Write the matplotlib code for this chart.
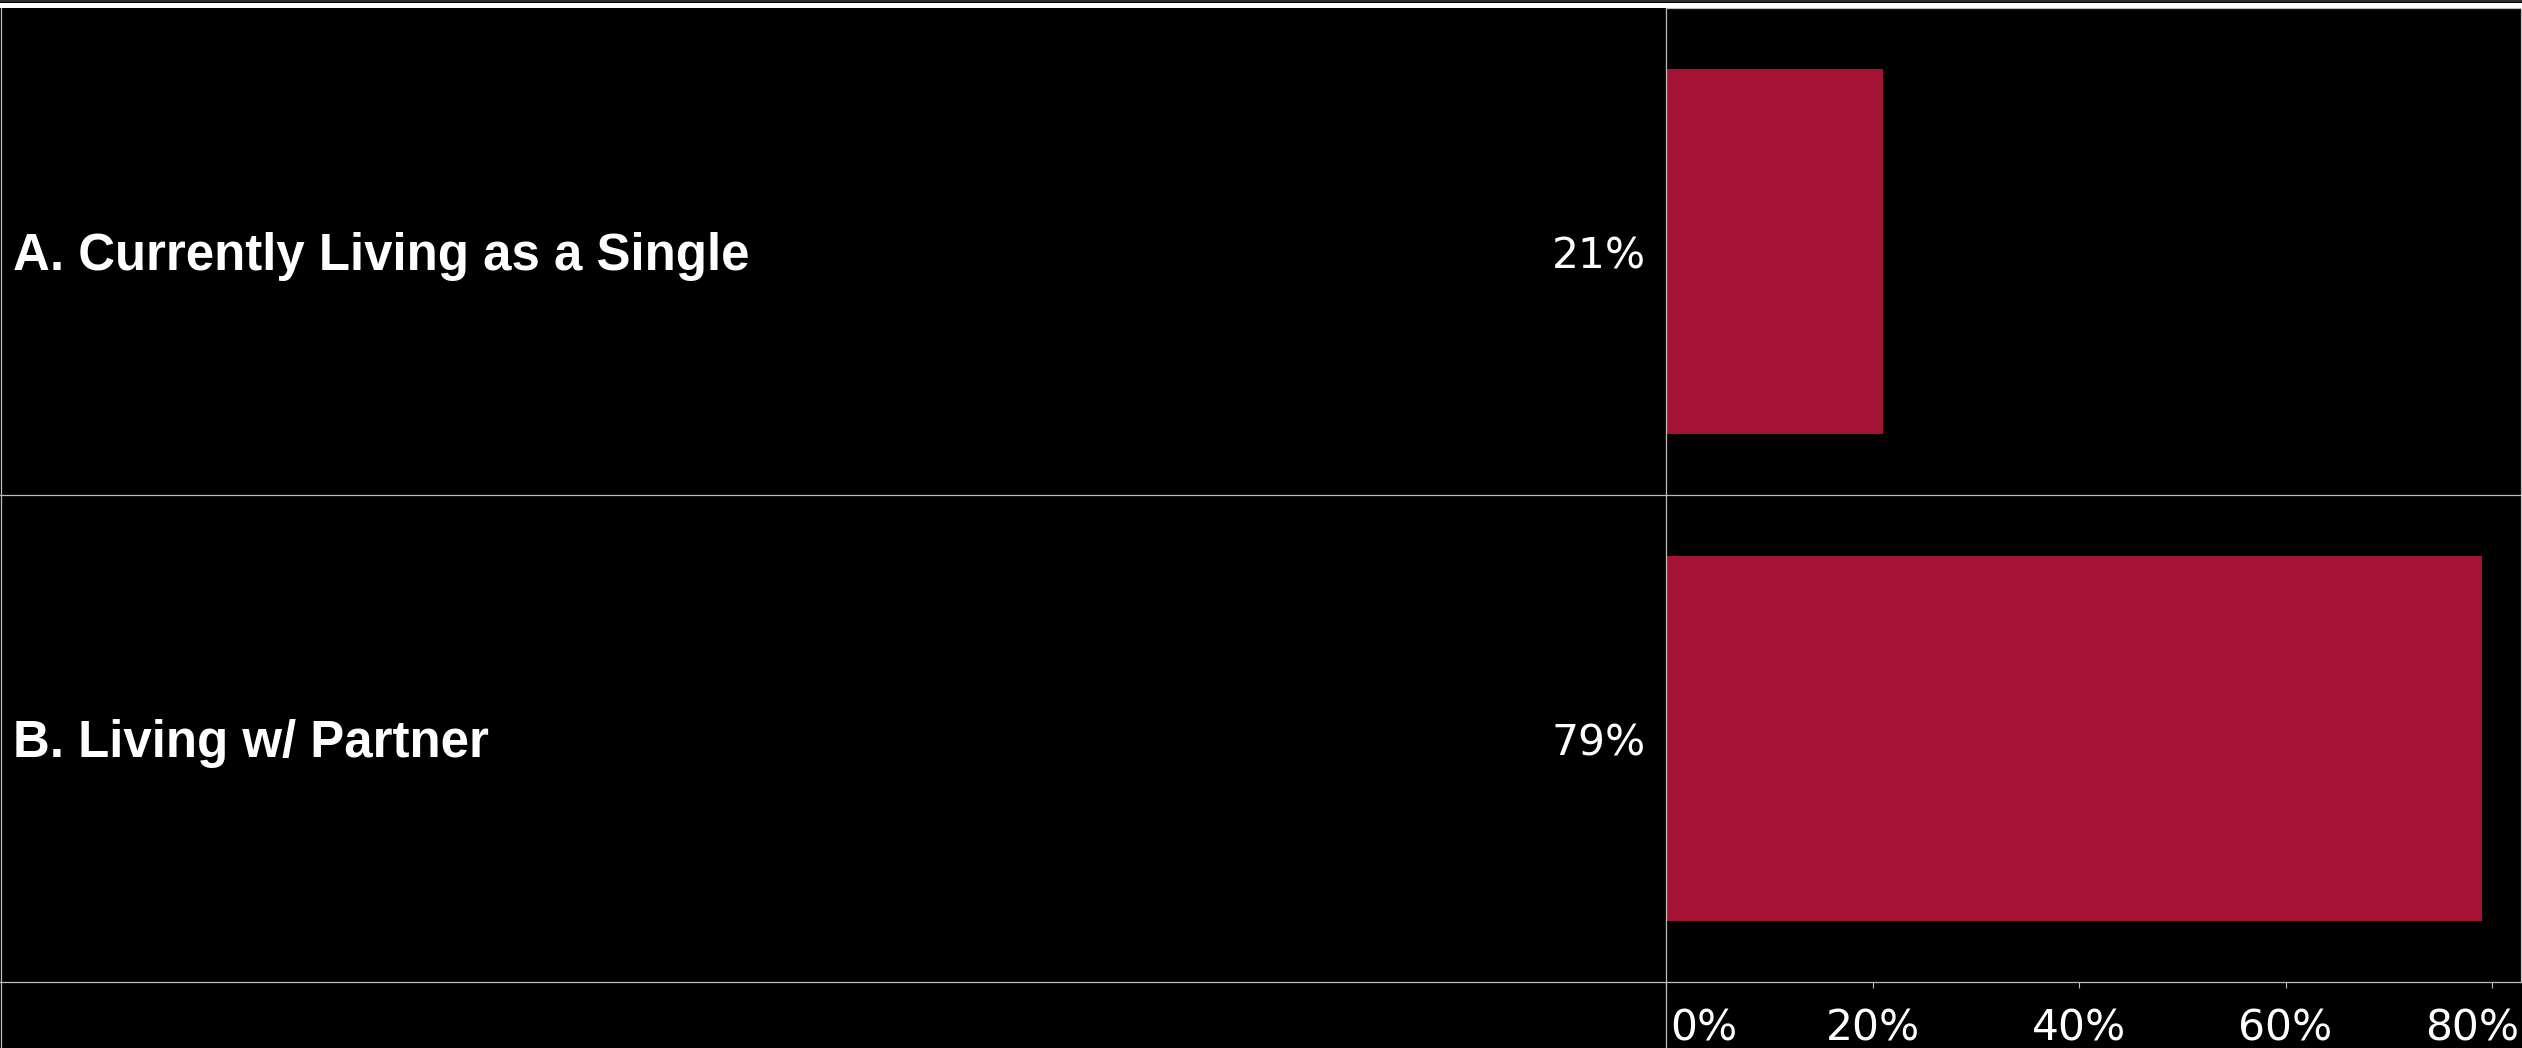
import matplotlib
matplotlib.use("Agg")
import matplotlib.pyplot as plt
import matplotlib.transforms as mtransforms
from matplotlib.lines import Line2D

# ---- data ----
categories = ["A. Currently Living as a Single", "B. Living w/ Partner"]
values = [21, 79]
value_labels = ["21%", "79%"]
tick_values = [0, 20, 40, 60, 80]
tick_labels = ["0%", "20%", "40%", "60%", "80%"]

W, H = 2522, 1048
DPI = 100
BAR = "#A51234"
GRID = "#BDBDBD"

fig = plt.figure(figsize=(W / DPI, H / DPI), dpi=DPI, facecolor="black")

left_px, right_px, top_px, bottom_px = 1666, 2521, 8, 982
ax = fig.add_axes([left_px / W, 1 - bottom_px / H,
                   (right_px - left_px) / W, (bottom_px - top_px) / H])
ax.set_facecolor("black")

ypos = list(range(len(categories)))
ax.barh(ypos, values, height=0.75, color=BAR, zorder=2)
ax.set_ylim(len(categories) - 0.5, -0.5)
ax.set_xlim(0, 82.8)
ax.set_yticks([])
ax.set_xticks(tick_values)
ax.set_xticklabels(tick_labels, fontfamily="DejaVu Sans", fontsize=30.5, color="white")
ax.tick_params(axis="x", direction="out", length=4.5, width=0.8, color=GRID, pad=14)

for s in ["left", "bottom", "right", "top"]:
    ax.spines[s].set_color(GRID)
    ax.spines[s].set_linewidth(0.9)
ax.spines["left"].set_visible(False)
ax.spines["bottom"].set_visible(False)

# clamp first / last tick labels inside axis
labels = ax.get_xticklabels()
labels[0].set_ha("left")
labels[0].set_transform(labels[0].get_transform() +
                        mtransforms.ScaledTranslation(4 / DPI, 0, fig.dpi_scale_trans))
labels[-1].set_ha("right")
labels[-1].set_transform(labels[-1].get_transform() +
                         mtransforms.ScaledTranslation(27 / DPI, 0, fig.dpi_scale_trans))

# category labels and value labels
trans_lab = (mtransforms.blended_transform_factory(fig.transFigure, ax.transData) +
             mtransforms.ScaledTranslation(0, -5 / DPI, fig.dpi_scale_trans))
for i, (cat, vl) in enumerate(zip(categories, value_labels)):
    fig.text(13 / W, i, cat, transform=trans_lab, ha="left", va="center",
             fontfamily="Liberation Sans", fontweight="bold", fontsize=36.7, color="white")
    fig.text(1646 / W, i, vl, transform=trans_lab, ha="right", va="center",
             fontfamily="DejaVu Sans", fontsize=30.5, color="white")

# table-like grid lines across the figure
def hline(ypx, x0=0, x1=W, color=GRID, lw=0.9):
    fig.add_artist(Line2D([x0 / W, x1 / W], [1 - ypx / H, 1 - ypx / H],
                          transform=fig.transFigure, color=color, lw=lw))

def vline(xpx, y0=0, y1=H, color=GRID, lw=0.9):
    fig.add_artist(Line2D([xpx / W, xpx / W], [1 - y0 / H, 1 - y1 / H],
                          transform=fig.transFigure, color=color, lw=lw))

hline(495)
hline(982)
vline(left_px, top_px, H)
vline(1.5, top_px, H)
# top white band
fig.add_artist(Line2D([0, 1], [1 - 4.5 / H, 1 - 4.5 / H], transform=fig.transFigure,
                      color="white", lw=3.6))
fig.add_artist(Line2D([0, 1], [1 - 0.8 / H, 1 - 0.8 / H], transform=fig.transFigure,
                      color="#333333", lw=1.3))

fig.savefig("out.png", dpi=DPI, facecolor="black")
